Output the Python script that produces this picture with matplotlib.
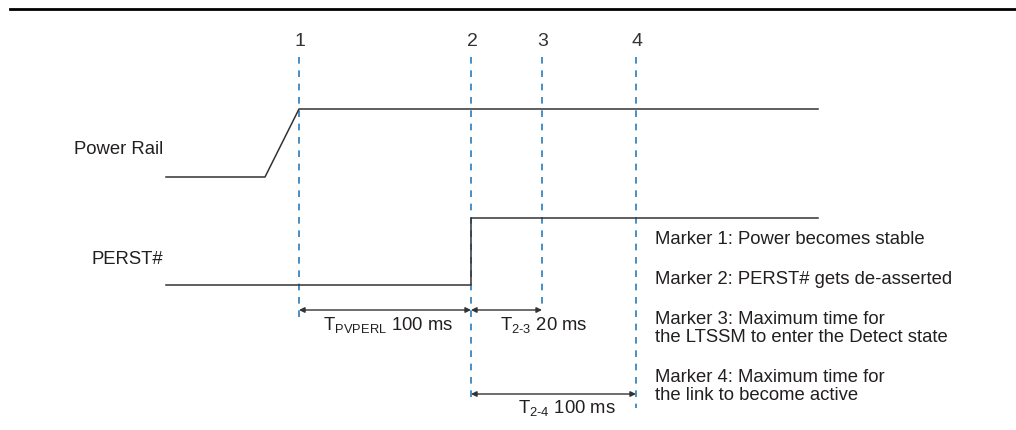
import matplotlib.pyplot as plt

plt.rcParams['font.family'] = ['Liberation Sans', 'DejaVu Sans']
plt.rcParams['mathtext.fontset'] = 'custom'
plt.rcParams['mathtext.rm'] = 'Liberation Sans'
plt.rcParams['mathtext.it'] = 'Liberation Sans'

# marker positions (time axis, drawn in px-like units)
marker_names = ['1', '2', '3', '4']
marker_x = [299, 471, 542, 636]
marker_bottom = [318, 402, 310, 408]

# signal waveforms (x, level)
power_x = [166, 265, 299, 818]
power_y = [177, 177, 109, 109]
perst_x = [166, 471, 471, 818]
perst_y = [285, 285, 218, 218]
signal_labels = ['Power Rail', 'PERST#']
signal_label_y = [149, 260]

# timing intervals: (start marker, end marker, row y, label, label x, label y)
spans = [
    (0, 1, 310, r'T$_{\mathrm{PVPERL}}$ 100 ms', 388, 325),
    (1, 2, 310, r'T$_{\mathrm{2\text{-}3}}$ 20 ms', 544, 325),
    (1, 3, 394, r'T$_{\mathrm{2\text{-}4}}$ 100 ms', 567, 408),
]

note_lines = [
    'Marker 1: Power becomes stable',
    'Marker 2: PERST# gets de-asserted',
    'Marker 3: Maximum time for',
    'the LTSSM to enter the Detect state',
    'Marker 4: Maximum time for',
    'the link to become active',
]
note_y = [240, 280, 319, 338, 377, 396]

txt = '#231f20'
blue = '#2b7bba'

fig = plt.figure(figsize=(10.16, 4.30), dpi=100)
ax = fig.add_axes([0, 0, 1, 1])
ax.set_xlim(0, 1016)
ax.set_ylim(430, 0)
ax.axis('off')

# header rule
ax.plot([10, 1016], [9, 9], color='black', lw=2)

for name, x, yb in zip(marker_names, marker_x, marker_bottom):
    ax.plot([x, x], [57, yb], color=blue, lw=1.2, dashes=(4, 4))
    ax.text(x + 1, 41, name, ha='center', va='center', fontsize=14, color='#333333')

ax.plot(power_x, power_y, color='#333333', lw=1.1)
ax.plot(perst_x, perst_y, color='#333333', lw=1.1)
for lab, y in zip(signal_labels, signal_label_y):
    ax.text(163, y, lab, ha='right', va='center', fontsize=13.3, color=txt)

for i0, i1, y, lab, lx, ly in spans:
    ax.annotate('', xy=(marker_x[i1], y), xytext=(marker_x[i0], y),
                arrowprops=dict(arrowstyle='<|-|>', color='#333333', lw=1.0,
                                mutation_scale=8, shrinkA=0, shrinkB=0))
    ax.text(lx, ly, lab, ha='center', va='center', fontsize=13.3, color=txt)

for line, y in zip(note_lines, note_y):
    ax.text(655, y, line, ha='left', va='center', fontsize=13.3, color=txt)

fig.savefig('out.png', dpi=100)
